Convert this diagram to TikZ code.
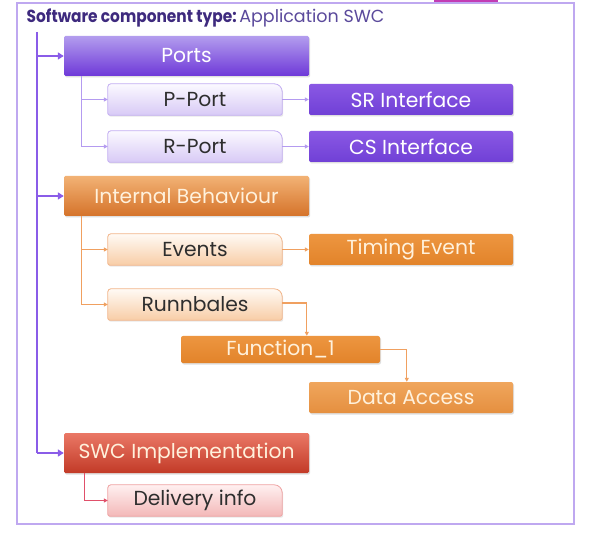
\documentclass[tikz,border=0pt]{standalone}
\usepackage{fontspec}
\setmainfont{Poppins}
\usetikzlibrary{arrows.meta,backgrounds,shadows,calc}
\definecolor{frameC}{HTML}{BFA8F0}
\definecolor{titleA}{HTML}{3E2A7E}
\definecolor{titleB}{HTML}{5B4A9C}
\definecolor{mainline}{HTML}{8A5CE8}
\definecolor{portline}{HTML}{B49BF0}
\definecolor{orline}{HTML}{F0A060}
\definecolor{redline}{HTML}{E0506A}
\definecolor{purTop}{HTML}{B39DEE}
\definecolor{purBot}{HTML}{6E38D8}
\definecolor{purFlatT}{HTML}{8A58E4}
\definecolor{purFlatB}{HTML}{7040D6}
\definecolor{lavTop}{HTML}{FBF9FF}
\definecolor{lavBot}{HTML}{D8CAF6}
\definecolor{lavBorder}{HTML}{C3AEF2}
\definecolor{orTop}{HTML}{F2B275}
\definecolor{orBot}{HTML}{D5732A}
\definecolor{orFlatT}{HTML}{ED9640}
\definecolor{orFlatB}{HTML}{E2832A}
\definecolor{peachTop}{HTML}{FFFAF5}
\definecolor{peachBot}{HTML}{F8CDA6}
\definecolor{peachBorder}{HTML}{F2B58A}
\definecolor{redTop}{HTML}{EA7866}
\definecolor{redBot}{HTML}{C23A27}
\definecolor{pinkTop}{HTML}{FFF0F0}
\definecolor{pinkBot}{HTML}{F3B8B8}
\definecolor{pinkBorder}{HTML}{EFA2A2}
\definecolor{darktext}{HTML}{2E2E2E}
\definecolor{creamtext}{HTML}{FFF1DC}
\definecolor{magentaC}{HTML}{C23CB4}
\tikzset{
  boxfont/.style={font=\fontsize{20.3}{23}\selectfont},
  shadowed/.style={drop shadow={shadow xshift=1pt,shadow yshift=-1.5pt,opacity=.25}},
  bigbox/.style={boxfont,minimum width=245pt,minimum height=40pt,inner sep=0pt,rounded corners=1.5pt,shadowed},
  subbox/.style={boxfont,minimum width=174pt,minimum height=31pt,inner sep=0pt,text=darktext},
  rightbox/.style={boxfont,minimum width=204pt,minimum height=31pt,inner sep=0pt,rounded corners=2pt,shadowed},
  mainarrow/.style={mainline,line width=2.6pt,-{Triangle[length=6pt,width=7pt]}},
  thinarrow/.style={line width=1.3pt,-{Triangle[length=4pt,width=4pt]}},
}
\newcommand{\snipshape}[4]{%
  \begin{scope}[on background layer]
  \path[draw=#4,line width=0.8pt,top color=#2,bottom color=#3,
    drop shadow={shadow xshift=1pt,shadow yshift=-1.5pt,opacity=.18}]
    (#1.south west) [rounded corners=3pt] -- (#1.north west)
    [rounded corners=8pt] -- (#1.north east)
    [rounded corners=2pt] -- (#1.south east) -- cycle;
  \end{scope}}
\begin{document}
\begin{tikzpicture}[x=1pt,y=-1pt]
\useasboundingbox (0,0) rectangle (594,534);
\begin{scope}[on background layer]
\fill[white] (0,0) rectangle (594,534);
\end{scope}
% frame
\fill[magentaC] (434,0) rectangle (498,2.5);
\draw[frameC,line width=1.6pt] (17,3) rectangle (574,524);
% title
\node[anchor=west,inner sep=0pt,font=\fontsize{17.5}{20}\selectfont] (title) at (26.5,18)
  {\textcolor{titleA}{\scalebox{0.88}[1]{\bfseries Software component type:}}\hspace{0.15em}\textcolor{titleB}{Application SWC}};
% main boxes
\node[bigbox,text=white,top color=purTop,bottom color=purBot] (ports) at (186.5,56) {Ports};
\node[bigbox,text=creamtext,top color=orTop,bottom color=orBot] (ib) at (186.5,196) {Internal Behaviour};
\node[bigbox,text=creamtext,top color=redTop,bottom color=redBot] (swc) at (186.5,453) {SWC Implementation};
% sub boxes
\node[subbox] (pport) at (195,99.5) {P-Port};
\node[subbox] (rport) at (195,146.5) {R-Port};
\node[subbox] (events) at (195,249.5) {Events};
\node[subbox] (run) at (195,304.5) {Runnbales};
\node[subbox] (deliv) at (195,500.5) {Delivery info};
\snipshape{pport}{lavTop}{lavBot}{lavBorder}
\snipshape{rport}{lavTop}{lavBot}{lavBorder}
\snipshape{events}{peachTop}{peachBot}{peachBorder}
\snipshape{run}{peachTop}{peachBot}{peachBorder}
\snipshape{deliv}{pinkTop}{pinkBot}{pinkBorder}
% right boxes
\node[rightbox,text=white,top color=purFlatT,bottom color=purFlatB] (sr) at (411,99.5) {SR Interface};
\node[rightbox,text=white,top color=purFlatT,bottom color=purFlatB] (cs) at (411,146.5) {CS Interface};
\node[rightbox,text=creamtext,top color=orFlatT,bottom color=orFlatB] (timing) at (411,249.5) {Timing Event};
\node[rightbox,text=creamtext,minimum width=199pt,minimum height=27pt,top color=orFlatT,bottom color=orFlatB] (fn) at (280.5,349.5) {Function\_1};
\node[rightbox,text=creamtext,top color=orFlatT!85!white,bottom color=orFlatB!90!white] (data) at (411,397.5) {Data Access};
% main vertical connector
\coordinate (mtop) at (37,32);
\draw[mainline,line width=2.6pt] (mtop) -- (mtop |- swc.west);
\draw[mainarrow] (mtop |- ports.west) -- (ports.west);
\draw[mainarrow] (mtop |- ib.west) -- (ib.west);
\draw[mainarrow] (mtop |- swc.west) -- (swc.west);
% ports branch
\coordinate (pv) at ($(ports.south west)+(17.5,0)$);
\draw[thinarrow,portline] (pv) |- (pport.west);
\draw[thinarrow,portline] (pv) |- (rport.west);
\draw[thinarrow,portline] (pport.east) -- (sr.west);
\draw[thinarrow,portline] (rport.east) -- (cs.west);
% internal behaviour branch
\coordinate (iv) at ($(ib.south west)+(17.5,0)$);
\draw[thinarrow,orline] (iv) |- (events.west);
\draw[thinarrow,orline] (iv) |- (run.west);
\draw[thinarrow,orline] (events.east) -- (timing.west);
\coordinate (fnin) at ($(fn.north west)+(126,0)$);
\draw[thinarrow,orline] ($(run.east)+(0,-1.5)$) -| (fnin);
\coordinate (datain) at ($(data.north west)+(98,0)$);
\draw[thinarrow,orline] (fn.east) -| (datain);
% swc branch
\coordinate (sv) at ($(swc.south west)+(21,0)$);
\draw[thinarrow,redline] (sv) |- (deliv.west);
\end{tikzpicture}
\end{document}
